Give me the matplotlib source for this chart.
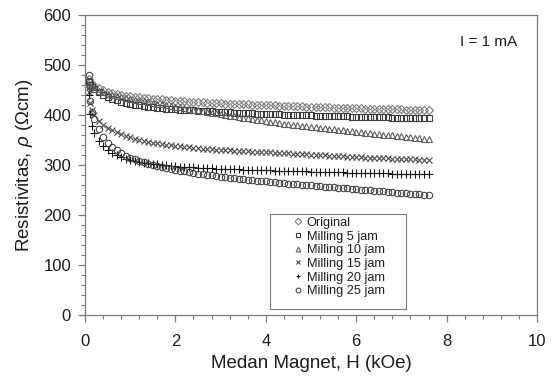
import matplotlib
matplotlib.use("Agg")
import matplotlib.pyplot as plt
from matplotlib.patches import Rectangle
from matplotlib.ticker import MultipleLocator

# field values (kOe)
field = [0.08, 0.12, 0.16, 0.2, 0.3, 0.4, 0.5, 0.6, 0.7, 0.8, 0.9,
         1.0, 1.1, 1.2, 1.3, 1.4, 1.5, 1.6, 1.7, 1.8, 1.9,
         2.0, 2.1, 2.2, 2.3, 2.4, 2.5, 2.6, 2.7, 2.8, 2.9,
         3.0, 3.1, 3.2, 3.3, 3.4, 3.5, 3.6, 3.7, 3.8, 3.9,
         4.0, 4.1, 4.2, 4.3, 4.4, 4.5, 4.6, 4.7, 4.8, 4.9,
         5.0, 5.1, 5.2, 5.3, 5.4, 5.5, 5.6, 5.7, 5.8, 5.9,
         6.0, 6.1, 6.2, 6.3, 6.4, 6.5, 6.6, 6.7, 6.8, 6.9,
         7.0, 7.1, 7.2, 7.3, 7.4, 7.5, 7.6]

original = [472, 466, 462, 459, 454, 450, 447, 445, 443, 441, 439,
            438, 437, 436, 435, 434, 433, 432, 431.5, 431, 430,
            429, 428.5, 428, 427, 426.5, 426, 425.5, 425, 424.5, 424,
            423.5, 423, 423, 422.5, 422, 422, 421.5, 421, 421, 420.5,
            420, 420, 419.5, 419, 419, 418.5, 418, 418, 417.5, 417,
            417, 416.5, 416, 416, 415.5, 415, 415, 414.5, 414, 414,
            414, 413.5, 413, 413, 412.5, 412.5, 412, 412, 411.5, 411.5,
            411.5, 411, 411, 411, 411, 410.5, 410.5]

milling_5 = [467, 461, 456, 452, 446, 441, 437, 433, 430, 427, 425,
             423, 421, 419.5, 418, 417, 416, 415, 414, 413, 412,
             411.5, 411, 410.5, 410, 409.5, 409, 408.5, 408, 407.5, 407,
             406.5, 406, 405.5, 405, 405, 404.5, 404, 403.5, 403, 403,
             402.5, 402, 402, 401.5, 401, 401, 400.5, 400, 400, 399.5,
             399.5, 399, 399, 398.5, 398.5, 398, 398, 397.5, 397.5, 397,
             397, 396.5, 396.5, 396, 396, 396, 395.5, 395.5, 395, 395,
             395, 394.5, 394.5, 394, 394, 394, 393.5]

milling_10 = [463, 459, 456, 453, 449, 446, 443, 441, 439, 437, 435,
              433, 431, 429, 427.5, 426, 424.5, 423, 421.5, 420, 418.5,
              417, 415.5, 414, 412.5, 411, 409.5, 408, 406.5, 405, 403.5,
              402, 400.5, 399, 397.5, 396, 395, 393.5, 392, 391, 389.5,
              388, 387, 385.5, 384.5, 383, 382, 381, 379.5, 378.5, 377.5,
              376.5, 375.5, 374.5, 373.5, 372.5, 371.5, 370.5, 369.5, 368.5, 367.5,
              366.5, 365.5, 364.5, 364, 363, 362, 361, 360, 359.5, 358.5,
              357.5, 356.5, 356, 355, 354, 353, 352]

milling_15 = [447, 424, 410, 401, 389, 381, 375, 370, 366, 362, 359,
              356, 353, 350.5, 348.5, 346.5, 345, 343.5, 342, 340.5, 339.5,
              338.5, 337.5, 336.5, 335.5, 334.5, 333.5, 333, 332, 331.5, 331,
              330.5, 330, 329.5, 329, 328.5, 328, 327.5, 327, 326.5, 326.5,
              326, 325.5, 325, 324.5, 324, 323.5, 323, 322.5, 322, 321.5,
              321, 320.5, 320, 319.5, 319, 318.5, 318, 317.5, 317, 316.5,
              316, 315.5, 315, 315, 314.5, 314, 313.5, 313.5, 313, 312.5,
              312.5, 312, 311.5, 311.5, 311, 310.5, 310]

milling_20 = [440, 402, 378, 364, 348, 338, 331, 325, 320, 316, 313,
              310.5, 308.5, 306.5, 305, 303.5, 302.5, 301.5, 300.5, 299.5, 298.5,
              298, 297, 296.5, 296, 295.5, 295, 294.5, 294, 293.5, 293,
              292.5, 292.5, 292, 291.5, 291.5, 291, 290.5, 290.5, 290, 290,
              289.5, 289.5, 289, 289, 288.5, 288.5, 288, 288, 287.5, 287.5,
              287, 287, 286.5, 286.5, 286, 286, 285.5, 285.5, 285, 285,
              285, 284.5, 284.5, 284, 284, 283.5, 283.5, 283.5, 283, 283,
              282.5, 282.5, 282.5, 282, 282, 281.5, 281.5]

milling_25 = [480, 428, 406, 392, 372, 356, 345, 337, 330, 324, 319,
              315, 311.5, 308.5, 305.5, 303, 300.5, 298.5, 296.5, 294.5, 292.5,
              290.5, 289, 287.5, 286, 284.5, 283, 282, 280.5, 279.5, 278,
              277, 276, 275, 274, 273, 272, 271, 270, 269, 268.5,
              267.5, 266.5, 265.5, 265, 264, 263, 262.5, 261.5, 261, 260,
              259.5, 258.5, 258, 257, 256.5, 255.5, 255, 254, 253.5, 252.5,
              252, 251, 250.5, 249.5, 249, 248, 247.5, 246.5, 246, 245,
              244.5, 243.5, 243, 242, 241.5, 240.5, 240]

labels = ["Original", "Milling 5 jam", "Milling 10 jam",
          "Milling 15 jam", "Milling 20 jam", "Milling 25 jam"]

plt.rcParams["font.family"] = ["Liberation Sans", "DejaVu Sans"]
plt.rcParams["mathtext.fontset"] = "custom"
plt.rcParams["mathtext.rm"] = "Liberation Sans"
plt.rcParams["mathtext.it"] = "Liberation Sans:italic"

ink = "#1c1c1c"
spine = "#7a7a7a"

fig = plt.figure(figsize=(5.56, 3.83), dpi=100)
ax = fig.add_axes([85 / 556, 68 / 383, 452 / 556, 300 / 383])

styles = [
    ("D", "#7c7c7c", 3.8),
    ("s", "#3c3c3c", 3.9),
    ("^", "#5e5e5e", 4.4),
    ("x", "#4a4a4a", 4.4),
    ("+", "#161616", 5.2),
    ("o", "#454545", 4.6),
]
series = [original, milling_5, milling_10, milling_15, milling_20, milling_25]
for ys, lab, (mk, col, ms) in zip(series, labels, styles):
    ax.plot(field, ys, linestyle="none", marker=mk, markersize=ms,
            markerfacecolor="none", markeredgecolor=col,
            markeredgewidth=0.8, label=lab)

ax.set_xlim(0, 10)
ax.set_ylim(0, 600)
ax.xaxis.set_major_locator(MultipleLocator(2))
ax.xaxis.set_minor_locator(MultipleLocator(0.4))
ax.yaxis.set_major_locator(MultipleLocator(100))
ax.yaxis.set_minor_locator(MultipleLocator(20))

for s in ax.spines.values():
    s.set_color(spine)
    s.set_linewidth(0.9)
ax.tick_params(which="major", direction="out", length=5, width=0.9,
               color=spine, labelsize=12, labelcolor=ink)
ax.tick_params(axis="x", which="major", pad=9)
ax.tick_params(axis="y", which="major", pad=5)
ax.tick_params(which="minor", direction="out", length=3, width=0.8, color=spine)

ax.set_xlabel("Medan Magnet, H (kOe)", fontsize=13.5, color=ink, labelpad=4)
ax.set_ylabel("Resistivitas, $\\rho$ (\u03A9cm)", fontsize=13.5, color=ink,
              labelpad=6)

ax.text(0.956, 0.91, "I = 1 mA", transform=ax.transAxes, ha="right",
        va="center", fontsize=11, color=ink)

ax.add_patch(Rectangle((0.409, 0.02), 0.301, 0.317, transform=ax.transAxes,
                       facecolor="white", edgecolor=spine, linewidth=0.8,
                       zorder=3))
leg = ax.legend(loc="upper left", bbox_to_anchor=(0.459, 0.327), frameon=False,
                borderpad=0, borderaxespad=0, handlelength=0.8,
                handletextpad=0.3, labelspacing=0.13, fontsize=9.2,
                labelcolor=ink)
for h in leg.legend_handles:
    h.set_markersize(3.4)
leg.set_zorder(4)

fig.savefig("out.png", dpi=100)
plt.close(fig)
